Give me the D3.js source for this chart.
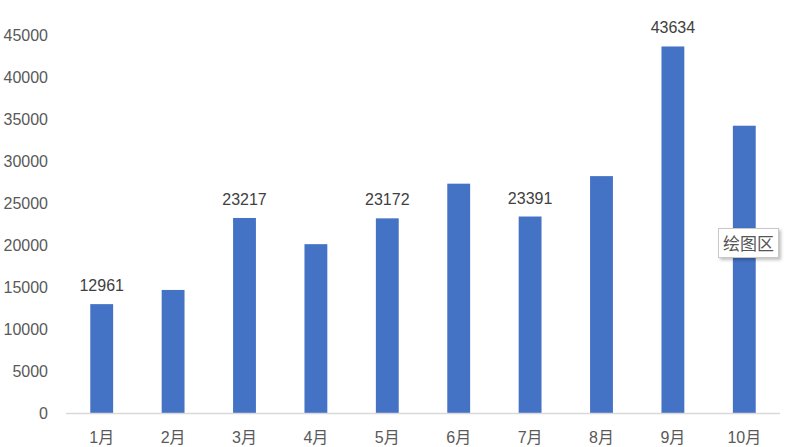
<!DOCTYPE html>
<html>
<head>
<meta charset="utf-8">
<script src="https://cdn.jsdelivr.net/npm/d3@7"></script>
<style>
  body { margin: 0; background: #fff; }
  #chart { position: relative; width: 786px; height: 447px; }
  .tip {
    position: absolute; left: 718px; top: 228px; padding: 2px 4px;
    background: #fff; border: 1px solid #c8c8c8; box-shadow: 2px 2px 3px rgba(0,0,0,0.25);
    font: 17px "Noto Sans CJK SC", sans-serif; color: #555; line-height: 24px;
  }
</style>
</head>
<body>
<div id="chart"></div>
<script>
const months = ["1月", "2月", "3月", "4月", "5月", "6月", "7月", "8月", "9月", "10月"];
const values = [12961, 14650, 23217, 20100, 23172, 27300, 23391, 28200, 43634, 34200];
const shownLabels = [true, false, true, false, true, false, true, false, true, false];
const yTicks = [0, 5000, 10000, 15000, 20000, 25000, 30000, 35000, 40000, 45000];

const width = 786;
const height = 447;
const margin = { top: 35, right: 6, bottom: 34, left: 66 };

const svg = d3.select("#chart")
    .append("svg")
    .attr("width", width)
    .attr("height", height);

const x = d3.scaleBand()
    .domain(months)
    .range([margin.left, width - margin.right])
    .paddingInner(0.68)
    .paddingOuter(0.34);

const y = d3.scaleLinear()
    .domain([0, 45000])
    .range([height - margin.bottom, margin.top]);

const font = "'Liberation Sans', 'Noto Sans CJK SC', sans-serif";

// y tick labels (no gridlines)
svg.append("g")
    .selectAll("text")
    .data(yTicks)
    .enter()
    .append("text")
    .attr("x", 48)
    .attr("y", d => y(d))
    .attr("dy", "0.35em")
    .attr("text-anchor", "end")
    .style("font-family", font)
    .style("font-size", "16px")
    .style("fill", "#595959")
    .text(d => d);

// bars
svg.append("g")
    .selectAll("rect")
    .data(values)
    .enter()
    .append("rect")
    .attr("x", (d, i) => x(months[i]))
    .attr("y", d => y(d))
    .attr("width", x.bandwidth())
    .attr("height", d => y(0) - y(d))
    .style("fill", "#4472c4");

// baseline
svg.append("line")
    .attr("x1", margin.left)
    .attr("x2", width - margin.right)
    .attr("y1", y(0) + 0.5)
    .attr("y2", y(0) + 0.5)
    .style("stroke", "#d9d9d9")
    .style("stroke-width", 1.5);

// month labels
svg.append("g")
    .selectAll("text")
    .data(months)
    .enter()
    .append("text")
    .attr("x", d => x(d) + x.bandwidth() / 2)
    .attr("y", y(0) + 30)
    .attr("text-anchor", "middle")
    .style("font-family", font)
    .style("font-size", "16px")
    .style("fill", "#595959")
    .text(d => d);

// data labels
svg.append("g")
    .selectAll("text")
    .data(values.map((v, i) => ({ v, m: months[i], show: shownLabels[i] })).filter(d => d.show))
    .enter()
    .append("text")
    .attr("x", d => x(d.m) + x.bandwidth() / 2)
    .attr("y", d => y(d.v) - 13)
    .attr("text-anchor", "middle")
    .style("font-family", font)
    .style("font-size", "16px")
    .style("fill", "#404040")
    .text(d => d.v);

d3.select("#chart").append("div").attr("class", "tip").text("绘图区");
</script>
</body>
</html>
